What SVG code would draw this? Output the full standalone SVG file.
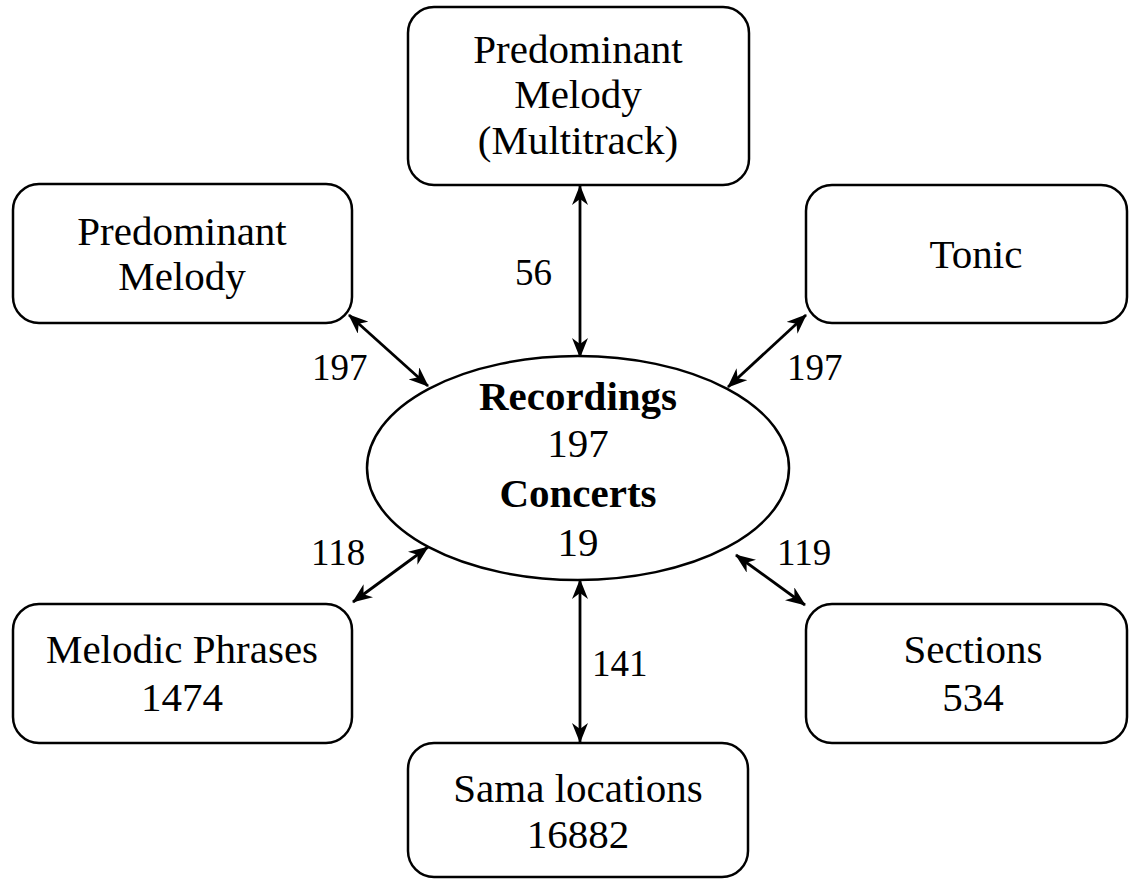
<svg xmlns="http://www.w3.org/2000/svg" width="1130" height="880" viewBox="0 0 1130 880">
  <style>
    .box { fill: #ffffff; stroke: #000000; stroke-width: 2.5; }
    .t { font-family: 'Liberation Serif', 'Times New Roman', serif; font-size: 41px; fill: #000000; text-anchor: middle; }
    .b { font-weight: bold; }
    .lbl { font-family: 'Liberation Serif', 'Times New Roman', serif; font-size: 37px; fill: #000000; }
    .edge { stroke: #000000; stroke-width: 2.8; fill: none; marker-start: url(#arr); marker-end: url(#arr); }
  </style>
  <defs>
    <marker id="arr" viewBox="0 0 20 16" refX="19" refY="8" markerWidth="20" markerHeight="16" markerUnits="userSpaceOnUse" orient="auto-start-reverse">
      <path d="M0,0 L20,8 L0,16 L6,8 z" fill="#000000"/>
    </marker>
  </defs>
  <rect width="1130" height="880" fill="#ffffff"/>

  <g id="connectors">
    <line class="edge" x1="580" y1="186" x2="580" y2="357"/>
    <line class="edge" x1="349" y1="315" x2="428" y2="386"/>
    <line class="edge" x1="806" y1="315" x2="728" y2="387"/>
    <line class="edge" x1="428" y1="547" x2="353" y2="602"/>
    <line class="edge" x1="736" y1="555" x2="805" y2="605"/>
    <line class="edge" x1="580" y1="580" x2="580" y2="742"/>
    <text class="lbl" x="515" y="285">56</text>
    <text class="lbl" x="312" y="380">197</text>
    <text class="lbl" x="787" y="380">197</text>
    <text class="lbl" x="311" y="565">118</text>
    <text class="lbl" x="777" y="565">119</text>
    <text class="lbl" x="592" y="676">141</text>
  </g>

  <g id="node-multitrack">
    <rect class="box" x="408" y="7" width="341" height="178" rx="26"/>
    <text class="t" x="578" y="63">Predominant</text>
    <text class="t" x="578" y="108">Melody</text>
    <text class="t" x="578" y="154">(Multitrack)</text>
  </g>

  <g id="node-melody">
    <rect class="box" x="13" y="184" width="339" height="139" rx="26"/>
    <text class="t" x="182" y="245">Predominant</text>
    <text class="t" x="182" y="290">Melody</text>
  </g>

  <g id="node-tonic">
    <rect class="box" x="806" y="185" width="321" height="138" rx="26"/>
    <text class="t" x="976" y="268">Tonic</text>
  </g>

  <g id="node-recordings">
    <ellipse class="box" cx="578" cy="468" rx="211" ry="112"/>
    <text class="t b" x="578" y="410">Recordings</text>
    <text class="t" x="578" y="457">197</text>
    <text class="t b" x="578" y="507">Concerts</text>
    <text class="t" x="578" y="556">19</text>
  </g>

  <g id="node-phrases">
    <rect class="box" x="13" y="604" width="339" height="139" rx="26"/>
    <text class="t" x="182" y="663">Melodic Phrases</text>
    <text class="t" x="182" y="711">1474</text>
  </g>

  <g id="node-sections">
    <rect class="box" x="806" y="604" width="321" height="139" rx="26"/>
    <text class="t" x="973" y="663">Sections</text>
    <text class="t" x="973" y="711">534</text>
  </g>

  <g id="node-sama">
    <rect class="box" x="408" y="743" width="340" height="134" rx="26"/>
    <text class="t" x="578" y="802">Sama locations</text>
    <text class="t" x="578" y="848">16882</text>
  </g>
</svg>
